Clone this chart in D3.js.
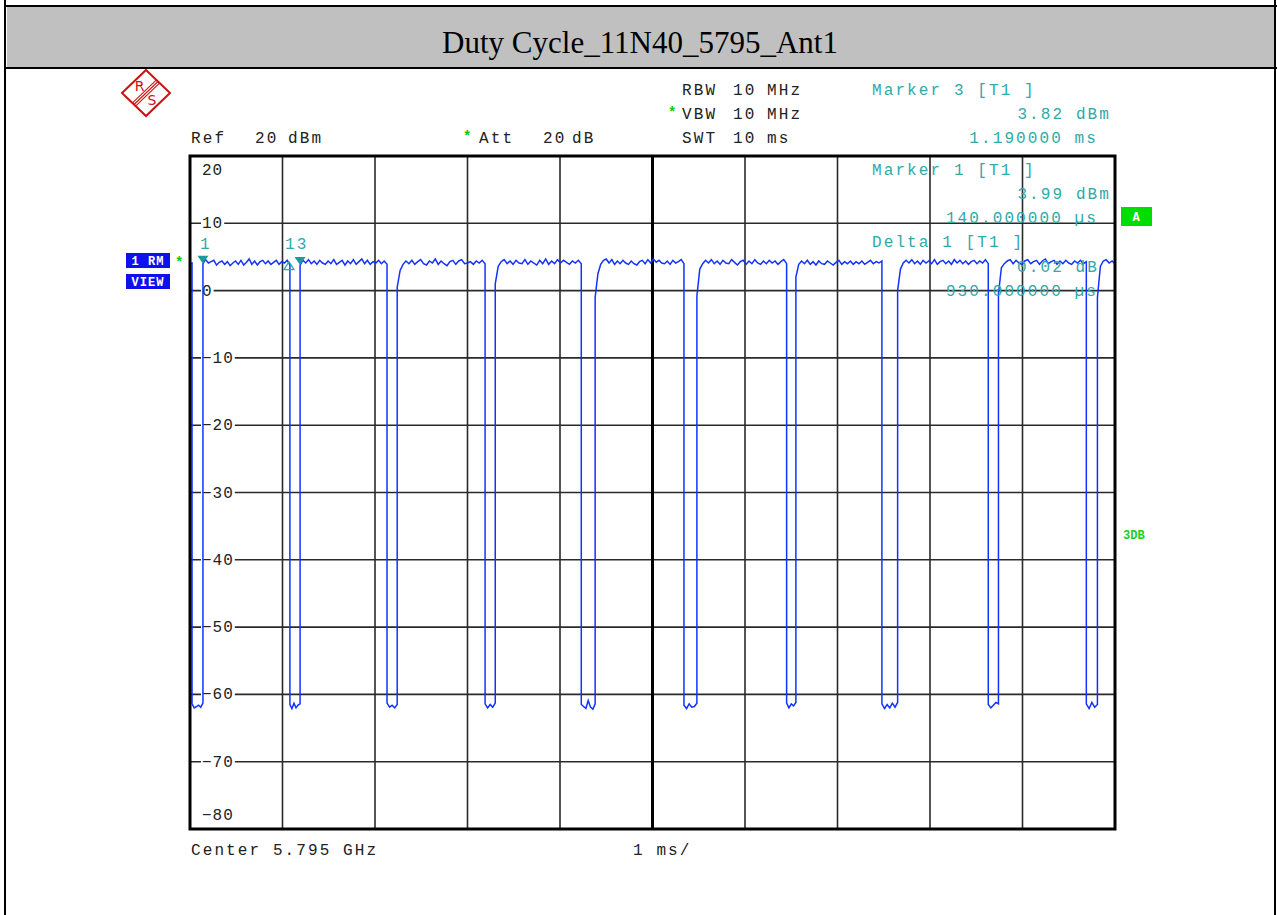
<!DOCTYPE html>
<html><head><meta charset="utf-8">
<script src="https://cdn.jsdelivr.net/npm/d3@7"></script>
<style>body{margin:0;background:#fff}svg{display:block}</style>
</head><body>
<svg id="c" width="1277" height="915"></svg>
<script>
// ---------- data ----------
const title = "Duty Cycle_11N40_5795_Ant1";
const yTickValues = [20, 10, 0, -10, -20, -30, -40, -50, -60, -70, -80];
const yTickLabels = ["20", "10", "0", "−10", "−20", "−30", "−40", "−50", "−60", "−70", "−80"];
const xGridMs = [0, 1, 2, 3, 4, 5, 6, 7, 8, 9, 10];
// off-gaps of the pulsed trace (ms)
const gapStart = [0.022, 1.08, 2.13, 3.19, 4.23, 5.34, 6.45, 7.48, 8.63, 9.69];
const gapEnd   = [0.14, 1.19, 2.24, 3.30, 4.38, 5.48, 6.55, 7.65, 8.74, 9.81];
// on-level samples (dBm) per segment, spread evenly between gaps
const onSamples = [
  [4.0, 4.1],
  [4.0, 4.6, 4.1, 4.3, 4.5, 3.8, 4.2, 4.4, 3.9, 4.3, 3.7, 4.1, 4.4, 3.9, 4.5, 3.8, 4.2, 4.7, 3.9, 4.4, 3.8, 4.3, 4.5, 4.0, 4.4, 3.9, 4.2, 4.5, 3.9, 4.3, 4.1, 4.5, 3.8],
  [3.8, 4.5, 4.1, 4.6, 4.0, 4.4, 3.9, 4.5, 4.1, 3.9, 4.4, 4.0, 4.6, 3.9, 4.2, 4.5, 3.8, 4.4, 4.0, 4.6, 3.9, 4.3, 4.7, 4.0, 4.5, 3.9, 4.3, 4.1, 4.5, 4.0, 4.4, 3.9],
  [0.5, 3.0, 3.9, 4.4, 4.0, 4.5, 3.9, 4.3, 4.6, 4.0, 3.8, 4.4, 4.1, 4.7, 3.9, 4.4, 4.0, 3.7, 4.3, 4.5, 3.9, 4.4, 4.6, 4.0, 4.1, 4.3, 3.9, 4.4, 4.1, 4.5, 4.0],
  [1.0, 3.6, 4.3, 4.6, 4.0, 4.4, 3.9, 4.5, 4.1, 4.0, 4.6, 3.9, 4.4, 4.1, 3.8, 4.5, 4.0, 4.7, 3.9, 4.4, 4.0, 4.6, 4.1, 4.5, 4.2, 3.9, 4.4, 4.1, 4.5, 4.0],
  [-1.0, 2.5, 3.9, 4.5, 4.7, 4.1, 4.6, 3.9, 4.4, 4.0, 4.5, 4.1, 3.9, 4.4, 4.0, 3.8, 4.3, 4.5, 4.0, 4.6, 4.1, 4.7, 4.2, 4.5, 4.1, 4.0, 4.4, 3.9, 4.5, 4.1, 4.3, 4.6, 4.0],
  [-0.8, 3.2, 4.0, 4.5, 4.1, 4.6, 4.0, 4.4, 3.9, 4.5, 4.1, 4.0, 4.6, 4.2, 3.8, 4.3, 4.5, 3.9, 4.4, 4.0, 4.6, 4.1, 3.9, 4.4, 4.0, 4.5, 4.1, 4.4, 3.9, 4.3, 4.6, 4.0],
  [2.0, 3.9, 4.4, 4.0, 4.5, 3.9, 4.3, 3.8, 4.4, 4.0, 3.9, 4.4, 4.1, 3.8, 4.2, 4.5, 3.9, 4.3, 4.0, 4.4, 3.9, 4.3, 4.0, 4.4, 3.9, 4.2, 4.5, 4.0, 4.3, 4.1, 4.4],
  [0.0, 3.2, 4.1, 4.5, 4.1, 4.6, 4.0, 4.4, 3.9, 4.5, 4.1, 4.4, 4.0, 4.6, 3.9, 4.3, 4.5, 4.0, 4.4, 3.9, 4.6, 4.1, 4.5, 4.0, 4.4, 3.9, 4.3, 4.5, 4.0, 4.4, 4.1, 4.6, 4.0],
  [-0.5, 3.4, 4.0, 4.4, 4.6, 4.0, 4.5, 4.1, 3.9, 4.4, 4.6, 4.0, 4.3, 4.5, 3.9, 4.4, 4.7, 4.0, 4.3, 4.5, 3.9, 4.4, 4.0, 4.5, 4.1, 3.9, 4.4, 4.1, 4.5, 4.0, 4.3],
  [-1.0, 3.6, 4.4, 4.6, 4.1, 4.4, 4.0]
];
// floor samples (dBm) inside each gap
const floorSamples = [
  [-61.4, -62.0, -61.8, -61.6, -61.9, -61.3],
  [-61.5, -62.1, -61.3, -62.0, -61.6, -61.4],
  [-61.3, -61.9, -61.6, -62.0, -61.5],
  [-61.4, -62.0, -61.5, -61.9, -61.3],
  [-61.5, -61.8, -62.1, -60.9, -61.9, -62.2, -61.4],
  [-61.6, -62.1, -61.4, -61.9, -61.8, -61.3],
  [-61.3, -62.0, -61.4, -61.7, -61.2],
  [-61.4, -62.1, -61.5, -62.0, -61.3, -61.9, -61.2],
  [-61.5, -62.0, -61.6, -61.2, -61.4],
  [-61.4, -62.1, -61.2, -61.9, -61.5]
];
const marker1 = { t: 0.14, v: 3.99 };
const marker3 = { t: 1.19, v: 3.82 };
const delta1 = { t: 1.07, v: 4.01 };

// ---------- layout ----------
const svg = d3.select("#c");
const x = d3.scaleLinear().domain([0, 10]).range([190, 1115]);
const y = d3.scaleLinear().domain([-80, 20]).range([829, 156]);
const mono = "'Liberation Mono', 'DejaVu Sans Mono', monospace";
const teal = "#2fa9a9";
const ls = "2.1px";
const fs = 16;

// outer frame & title bar
svg.append("rect").attr("x", 7).attr("y", 7).attr("width", 1267).attr("height", 60).attr("fill", "#c0c0c0");
svg.append("line").attr("x1", 4).attr("x2", 1277).attr("y1", 6).attr("y2", 6).attr("stroke", "#000").attr("stroke-width", 2);
svg.append("line").attr("x1", 4).attr("x2", 1277).attr("y1", 68).attr("y2", 68).attr("stroke", "#000").attr("stroke-width", 2);
svg.append("line").attr("x1", 5).attr("x2", 5).attr("y1", 0).attr("y2", 915).attr("stroke", "#000").attr("stroke-width", 2);
svg.append("line").attr("x1", 1275).attr("x2", 1275).attr("y1", 0).attr("y2", 915).attr("stroke", "#000").attr("stroke-width", 2);
svg.append("text").attr("x", 640).attr("y", 53).attr("text-anchor", "middle")
  .attr("font-family", "'Liberation Serif', 'Times New Roman', serif").attr("font-size", 31).attr("fill", "#000").text(title);

// R&S logo
const logo = svg.append("g").attr("stroke", "#cc1111").attr("fill", "none");
logo.append("polygon").attr("points", "146,70 170,93 146,116 122,93").attr("stroke-width", 2);
[-2.2, 0, 2.2].forEach(o => {
  logo.append("line").attr("x1", 158 + o * 0.7).attr("y1", 81.5 + o * 0.7).attr("x2", 134 + o * 0.7).attr("y2", 104.5 + o * 0.7).attr("stroke-width", 1.1);
});
svg.append("text").attr("x", 139.5).attr("y", 91).attr("text-anchor", "middle").attr("font-family", "'DejaVu Sans', sans-serif").attr("font-size", 14).attr("fill", "#cc1111").text("R");
svg.append("text").attr("x", 152).attr("y", 105).attr("text-anchor", "middle").attr("font-family", "'DejaVu Sans', sans-serif").attr("font-size", 14).attr("fill", "#cc1111").text("S");

// helper for monospaced text
function mtext(tx, ty, s, color, anchor) {
  return svg.append("text").attr("x", tx).attr("y", ty).attr("font-family", mono).attr("font-size", fs)
    .style("letter-spacing", ls).attr("fill", color || "#222").attr("text-anchor", anchor || "start").text(s);
}
function star(tx, ty) {
  svg.append("text").attr("x", tx).attr("y", ty).attr("font-family", mono).attr("font-size", 14)
    .attr("font-weight", "bold").attr("fill", "#00cc00").text("*");
}

// header settings
mtext(682, 95, "RBW"); mtext(733, 95, "10"); mtext(767, 95, "MHz");
star(668, 117); mtext(682, 119, "VBW"); mtext(733, 119, "10"); mtext(767, 119, "MHz");
mtext(682, 143, "SWT"); mtext(733, 143, "10"); mtext(767, 143, "ms");
mtext(191, 143, "Ref"); mtext(255, 143, "20"); mtext(288, 143, "dBm");
star(463, 141); mtext(479, 143, "Att"); mtext(543, 143, "20"); mtext(572, 143, "dB");
mtext(191, 855, "Center 5.795 GHz");
mtext(633, 855, "1 ms/");

// grid
const grid = svg.append("g");
yTickValues.filter(v => v < 20 && v > -80).forEach(v => {
  grid.append("line").attr("x1", x(0)).attr("x2", x(10)).attr("y1", y(v)).attr("y2", y(v))
    .attr("stroke", "#2a2a2a").attr("stroke-width", 1.6);
});
xGridMs.filter(t => t > 0 && t < 10).forEach(t => {
  grid.append("line").attr("x1", x(t)).attr("x2", x(t)).attr("y1", y(20)).attr("y2", y(-80))
    .attr("stroke", t === 5 ? "#000" : "#2a2a2a").attr("stroke-width", t === 5 ? 3 : 1.6);
});

// y tick labels (white background cutting the grid lines)
yTickValues.forEach((v, i) => {
  let ty = y(v) + 5;
  if (v === 20) ty = y(v) + 19;
  if (v === -80) ty = y(v) - 9;
  const t = mtext(202, ty, yTickLabels[i], "#222").style("letter-spacing", "1px");
  const w = t.node().getComputedTextLength();
  if (v < 20 && v > -80) {
    svg.insert("rect", "text:last-child").attr("x", 201).attr("y", y(v) - 3).attr("width", w + 2).attr("height", 6).attr("fill", "#fff");
  }
});

// trace
const pts = [];
function addSeg(t0, t1, vals) {
  const n = vals.length;
  vals.forEach((v, i) => pts.push([n === 1 ? t0 : t0 + (t1 - t0) * i / (n - 1), v]));
}
addSeg(0, gapStart[0], onSamples[0]);
gapStart.forEach((gs, i) => {
  addSeg(gs, gapEnd[i], floorSamples[i]);
  addSeg(gapEnd[i], i < gapStart.length - 1 ? gapStart[i + 1] : 10, onSamples[i + 1]);
});
svg.append("path").datum(pts)
  .attr("d", d3.line().x(d => x(d[0])).y(d => y(d[1])))
  .attr("fill", "none").attr("stroke", "#1233ff").attr("stroke-width", 1.5).attr("stroke-linejoin", "miter");

// frame
svg.append("rect").attr("x", x(0)).attr("y", y(20)).attr("width", x(10) - x(0)).attr("height", y(-80) - y(20))
  .attr("fill", "none").attr("stroke", "#000").attr("stroke-width", 3);

// marker text block
mtext(872, 95, "Marker 3 [T1 ]", teal);
mtext(1111, 119, "3.82 dBm", teal, "end");
mtext(1098, 143, "1.190000 ms", teal, "end");
mtext(872, 175, "Marker 1 [T1 ]", teal);
mtext(1111, 199, "3.99 dBm", teal, "end");
mtext(1098, 223, "140.000000 µs", teal, "end");
mtext(872, 247, "Delta 1 [T1 ]", teal);
mtext(1099, 272, "0.02 dB", teal, "end");
mtext(1098, 296, "930.000000 µs", teal, "end");

// markers on trace
function downTri(t, v) {
  const cx = x(t), cy = y(v);
  svg.append("path").attr("d", `M${cx - 5.5},${cy - 8}L${cx + 5.5},${cy - 8}L${cx},${cy}Z`).attr("fill", "#1a9a9a");
}
downTri(marker1.t, marker1.v);
downTri(marker3.t, marker3.v);
{
  const cx = x(delta1.t), cy = y(delta1.v);
  svg.append("path").attr("d", `M${cx},${cy - 2}L${cx + 5},${cy + 6}L${cx - 5},${cy + 6}Z`).attr("fill", "none").attr("stroke", teal).attr("stroke-width", 1.3);
}
mtext(x(marker1.t) - 3, 249, "1", teal);
mtext(x(delta1.t) - 4, 249, "13", teal);

// side labels
function box(bx, by, w, h, color, label, tcolor) {
  svg.append("rect").attr("x", bx).attr("y", by).attr("width", w).attr("height", h).attr("fill", color);
  svg.append("text").attr("x", bx + w / 2).attr("y", by + h / 2 + 4.5).attr("text-anchor", "middle")
    .attr("font-family", mono).attr("font-weight", "bold").attr("font-size", 12).style("letter-spacing", "1px")
    .attr("fill", tcolor).text(label);
}
box(126, 253, 44, 15, "#1010ee", "1 RM", "#fff");
box(126, 274, 44, 15, "#1010ee", "VIEW", "#fff");
star(175, 267);
box(1121, 207, 31, 19, "#00dd00", "A", "#fff");
svg.append("text").attr("x", 1123).attr("y", 539).attr("font-family", mono).attr("font-weight", "bold")
  .attr("font-size", 12).attr("fill", "#22cc22").text("3DB");
</script>
</body></html>
